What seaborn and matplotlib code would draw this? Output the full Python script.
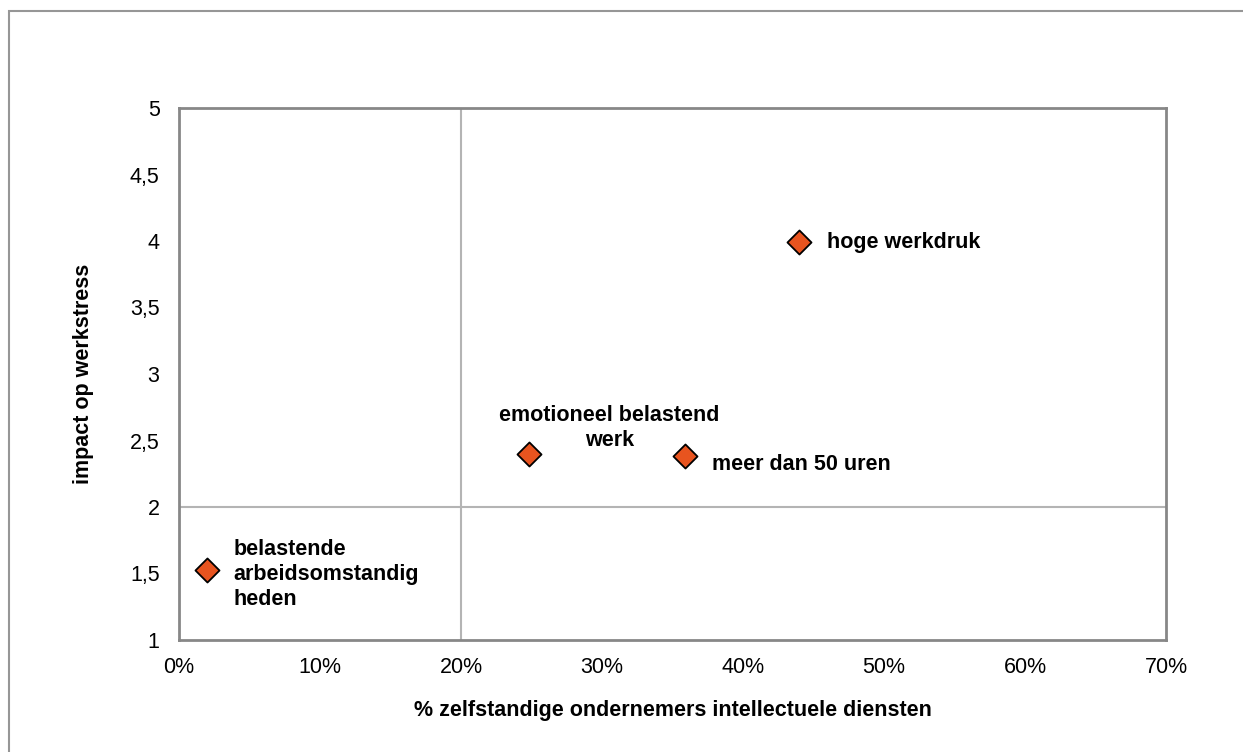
import matplotlib
matplotlib.use("Agg")
import matplotlib.pyplot as plt
import seaborn as sns
import pandas as pd
from matplotlib.patches import Rectangle
from matplotlib.ticker import FuncFormatter, MultipleLocator

labels = ["belastende\narbeidsomstandig\nheden", "emotioneel belastend\nwerk",
          "meer dan 50 uren", "hoge werkdruk"]
pct = [2.0, 24.8, 35.9, 44.0]
impact = [1.53, 2.40, 2.38, 3.99]

# label offsets (pixels) and alignments
offsets = [(26, -5), (81, 26), (27, -8), (28, 0)]
has = ["left", "center", "left", "left"]

df = pd.DataFrame({"pct": pct, "impact": impact, "label": labels})

sns.set_theme(style="white")
plt.rcParams['font.family'] = ['Liberation Sans', 'DejaVu Sans']

FS = 15.5

fig = plt.figure(figsize=(12.43, 7.52), dpi=100)
ax = fig.add_axes([179/1243, 1-640/752, (1166-179)/1243, (640-108)/752])

# outer chart border
fig.patches.append(Rectangle((9/1243, -0.1), 1.2, 1 - 11/752 + 0.1, transform=fig.transFigure,
                             fill=False, edgecolor="#969696", linewidth=1.5, zorder=0))

# crossing lines
ax.axvline(20, color="#b4b4b4", linewidth=1.5, zorder=1)
ax.axhline(2, color="#b4b4b4", linewidth=1.5, zorder=1)

sns.scatterplot(data=df, x="pct", y="impact", marker="D", s=150, color="#E8541F",
                edgecolor="black", linewidth=1.3, ax=ax, zorder=3, legend=False)

for lab, x, y, off, ha in zip(labels, pct, impact, offsets, has):
    ax.annotate(lab, (x, y), xytext=off, textcoords="offset pixels", ha=ha, va="center",
                fontsize=FS, fontweight="bold", color="black", linespacing=1.25)

ax.set_xlim(0, 70)
ax.set_ylim(1, 5)
ax.xaxis.set_major_locator(MultipleLocator(10))
ax.yaxis.set_major_locator(MultipleLocator(0.5))
ax.xaxis.set_major_formatter(FuncFormatter(lambda v, p: f"{v:.0f}%"))
ax.yaxis.set_major_formatter(FuncFormatter(lambda v, p: (f"{v:g}").replace(".", ",")))
ax.tick_params(axis="both", length=0, labelsize=FS, colors="black", labelcolor="black")
ax.tick_params(axis="x", pad=12)
ax.tick_params(axis="y", pad=14)
for sp in ax.spines.values():
    sp.set_color("#878787")
    sp.set_linewidth(2)

ax.set_xlabel("% zelfstandige ondernemers intellectuele diensten", fontsize=FS,
              fontweight="bold", labelpad=16, color="black")
ax.set_ylabel("impact op werkstress", fontsize=FS, fontweight="bold", labelpad=26,
              color="black")

fig.savefig("out.png", dpi=100)
